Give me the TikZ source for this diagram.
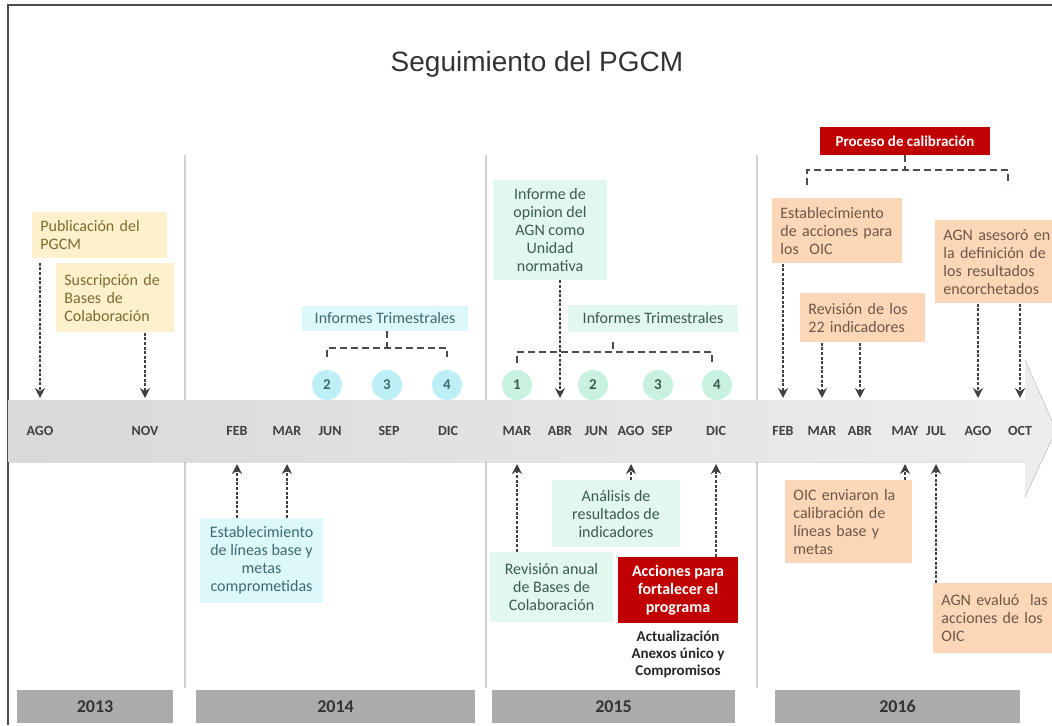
\documentclass[tikz,border=0pt]{standalone}
\usepackage{fontspec}
\setmainfont{Carlito}
\newfontfamily\titlefont{Liberation Sans}
\usetikzlibrary{arrows.meta, calc}

\definecolor{amar}{HTML}{FDF1CC}
\definecolor{amartxt}{HTML}{7F6A30}
\definecolor{cian}{HTML}{DCF8FB}
\definecolor{ciancirc}{HTML}{BDF0F6}
\definecolor{ciantxt}{HTML}{3D6B70}
\definecolor{verde}{HTML}{E2F7EE}
\definecolor{verdecirc}{HTML}{C9F1DF}
\definecolor{verdetxt}{HTML}{3B5B52}
\definecolor{dura}{HTML}{FBD7B8}
\definecolor{duratxt}{HTML}{6E5848}
\definecolor{rojo}{HTML}{C00000}

\begin{document}
\begin{tikzpicture}[x=0.5pt, y=-0.5pt,
  box/.style = {rectangle, inner xsep=4pt, inner ysep=2pt, font=\fontsize{8}{9}\selectfont},
  lbox/.style = {box, anchor=north west, align=left},
  cbox/.style = {box, align=center},
  circ/.style = {circle, minimum size=15pt, inner sep=0pt, font=\bfseries\fontsize{7.5}{8}\selectfont},
  mes/.style = {font=\bfseries\fontsize{7}{8}\selectfont, text=black!75},
  anio/.style = {rectangle, fill=black!33, minimum height=16.5pt, font=\bfseries\fontsize{9}{10}\selectfont, text=black!80},
  arr/.style = {dash pattern=on 1.5pt off 0.8pt, line width=1pt, draw=black!75, -{Stealth[length=5pt,width=5pt]}},
  brk/.style = {dash pattern=on 3.5pt off 2pt, line width=0.7pt, draw=black!70}]

\useasboundingbox (0,0) rectangle (1052,725);

%% frame and title
\draw[black!70, line width=0.6pt] (8,725) -- (8,5) -- (1052,5);
\node[font=\titlefont\fontsize{14}{16}\selectfont, text=black!80] (titulo) at (537,64) {Seguimiento del PGCM};

%% year separators
\foreach \x in {185, 486, 757}
  \draw[black!18, line width=0.8pt] (\x,155) -- (\x,688);

%% timeline band
\fill[left color=black!15, right color=black!7] (8,400) -- (1025,400) -- (1025,360) -- (1056,430)
  -- (1025,497) -- (1025,462) -- (8,462) -- cycle;
\coordinate (bt) at (0,398);
\coordinate (bb) at (0,464);

%% months
\foreach \m/\x in {AGO/40, NOV/145, FEB/237, MAR/287, JUN/330, SEP/389, DIC/448,
    MAR/517, ABR/560, JUN/596, AGO/631, SEP/662, DIC/716,
    FEB/783, MAR/822, ABR/860, MAY/905, JUL/936, AGO/978, OCT/1020}
  \node[mes] (m-\x) at (\x,431) {\m};

%% years
\node[anio, minimum width=78pt] (y2013) at (95,706.5) {2013};
\node[anio, minimum width=139.5pt] (y2014) at (335.5,706.5) {2014};
\node[anio, minimum width=121.5pt] (y2015) at (613.5,706.5) {2015};
\node[anio, minimum width=122.5pt] (y2016) at (897.5,706.5) {2016};

%% 2013
\node[lbox, fill=amar, text=amartxt, text width=59.5pt, minimum height=23pt] (pub) at (32,212)
  {Publicación del\\PGCM};
\node[lbox, fill=amar, text=amartxt, text width=51pt, minimum height=34.5pt] (susc) at (56,263)
  {Suscripción de\\Bases de\\Colaboración};

%% 2014
\node[cbox, fill=cian, text=ciantxt, minimum width=83pt, minimum height=12.5pt] (trim14) at (385,318)
  {Informes Trimestrales};
\node[circ, fill=ciancirc, text=ciantxt] (c14-2) at (327,385) {2};
\node[circ, fill=ciancirc, text=ciantxt] (c14-3) at (387,385) {3};
\node[circ, fill=ciancirc, text=ciantxt] (c14-4) at (447,385) {4};
\node[cbox, fill=cian, text=ciantxt, minimum width=61.5pt, minimum height=42.5pt] (est14) at (261.5,560.5)
  {Establecimiento\\de líneas base y\\metas\\comprometidas};

%% 2015
\node[cbox, fill=verde, text=verdetxt, minimum width=57pt, minimum height=50pt] (inf15) at (550,230)
  {Informe de\\opinion del\\AGN como\\Unidad\\normativa};
\node[cbox, fill=verde, text=verdetxt, minimum width=85pt, minimum height=13.5pt] (trim15) at (653,318)
  {Informes Trimestrales};
\node[circ, fill=verdecirc, text=verdetxt] (c15-1) at (517,385) {1};
\node[circ, fill=verdecirc, text=verdetxt] (c15-2) at (593,385) {2};
\node[circ, fill=verdecirc, text=verdetxt] (c15-3) at (658,385) {3};
\node[circ, fill=verdecirc, text=verdetxt] (c15-4) at (717,385) {4};
\node[cbox, fill=verde, text=verdetxt, minimum width=64pt, minimum height=33.5pt] (anal) at (616,513.5)
  {Análisis de\\resultados de\\indicadores};
\node[cbox, fill=verde, text=verdetxt, minimum width=61.5pt, minimum height=35pt] (rev15) at (551.5,587)
  {Revisión anual\\de Bases de\\Colaboración};
\node[cbox, fill=rojo, text=white, font=\bfseries\fontsize{8}{9}\selectfont, minimum width=60pt, minimum height=33pt] (acc) at (678,590)
  {Acciones para\\fortalecer el\\programa};
\node[align=center, font=\bfseries\fontsize{7.5}{8.5}\selectfont, text=black!85] (act) at (678,654)
  {Actualización\\Anexos único y\\Compromisos};

%% 2016
\node[cbox, fill=rojo, text=white, font=\bfseries\fontsize{7.5}{8.5}\selectfont, minimum width=85pt, minimum height=14pt] (calib) at (905,141)
  {Proceso de calibración};
\node[lbox, fill=dura, text=duratxt, text width=57pt, minimum height=32.5pt] (est16) at (772,198)
  {Establecimiento\\de acciones para\\los~ OIC};
\node[lbox, fill=dura, text=duratxt, text width=56pt, minimum height=41.5pt] (agn16) at (935,220)
  {AGN asesoró en\\la definición de\\los resultados\\encorchetados};
\node[lbox, fill=dura, text=duratxt, text width=54.5pt, minimum height=24.5pt] (rev16) at (800,293)
  {Revisión de los\\22 indicadores};
\node[lbox, fill=dura, text=duratxt, text width=55.5pt, minimum height=41.5pt] (oic) at (785,480)
  {OIC enviaron la\\calibración de\\líneas base y\\metas};
\node[lbox, fill=dura, text=duratxt, text width=57pt, minimum height=35pt] (agnev) at (933,583)
  {AGN evaluó~ las\\acciones de los\\OIC};

%% brackets
\coordinate (k14) at (0,348);
\coordinate (k15) at (0,352);
\coordinate (k16) at (0,170);
\coordinate (t15) at (613,0);
\coordinate (e15) at (712,0);
\draw[brk] (trim14.south -| c14-3) -- (c14-3 |- k14);
\draw[brk] ($(c14-2.north)+(0,-13)$) -- (c14-2 |- k14) -- (c14-4 |- k14) -- ($(c14-4.north)+(0,-13)$);
\draw[brk] ($(t15 |- trim15.south)+(0,10)$) -- (t15 |- k15);
\draw[brk] ($(c15-1.north)+(0,-7)$) -- (c15-1 |- k15) -- (e15 |- k15) -- ($(e15 |- k15)+(0,11)$);
\draw[brk] (calib.south) -- (calib |- k16);
\draw[brk] (807,185) -- (807,170) -- (1008,170) -- (1008,185);

%% arrows down
\draw[arr] ([yshift=-2pt]pub.south -| m-40) -- (m-40 |- bt);
\draw[arr] (susc.south -| m-145) -- (m-145 |- bt);
\draw[arr] (inf15.south -| m-560) -- (m-560 |- bt);
\draw[arr] (est16.south -| m-783) -- (m-783 |- bt);
\draw[arr] (rev16.south -| m-822) -- (m-822 |- bt);
\draw[arr] (rev16.south -| m-860) -- (m-860 |- bt);
\draw[arr] (agn16.south -| m-978) -- (m-978 |- bt);
\draw[arr] (agn16.south -| m-1020) -- (m-1020 |- bt);

%% arrows up
\draw[arr] (est14.north -| m-237) -- (m-237 |- bb);
\draw[arr] (est14.north -| m-287) -- (m-287 |- bb);
\draw[arr] (rev15.north -| m-517) -- (m-517 |- bb);
\draw[arr] (anal.north -| m-631) -- (m-631 |- bb);
\draw[arr] (acc.north -| m-716) -- (m-716 |- bb);
\draw[arr] (oic.north -| m-905) -- (m-905 |- bb);
\draw[arr] (agnev.north -| m-936) -- (m-936 |- bb);

\end{tikzpicture}
\end{document}
